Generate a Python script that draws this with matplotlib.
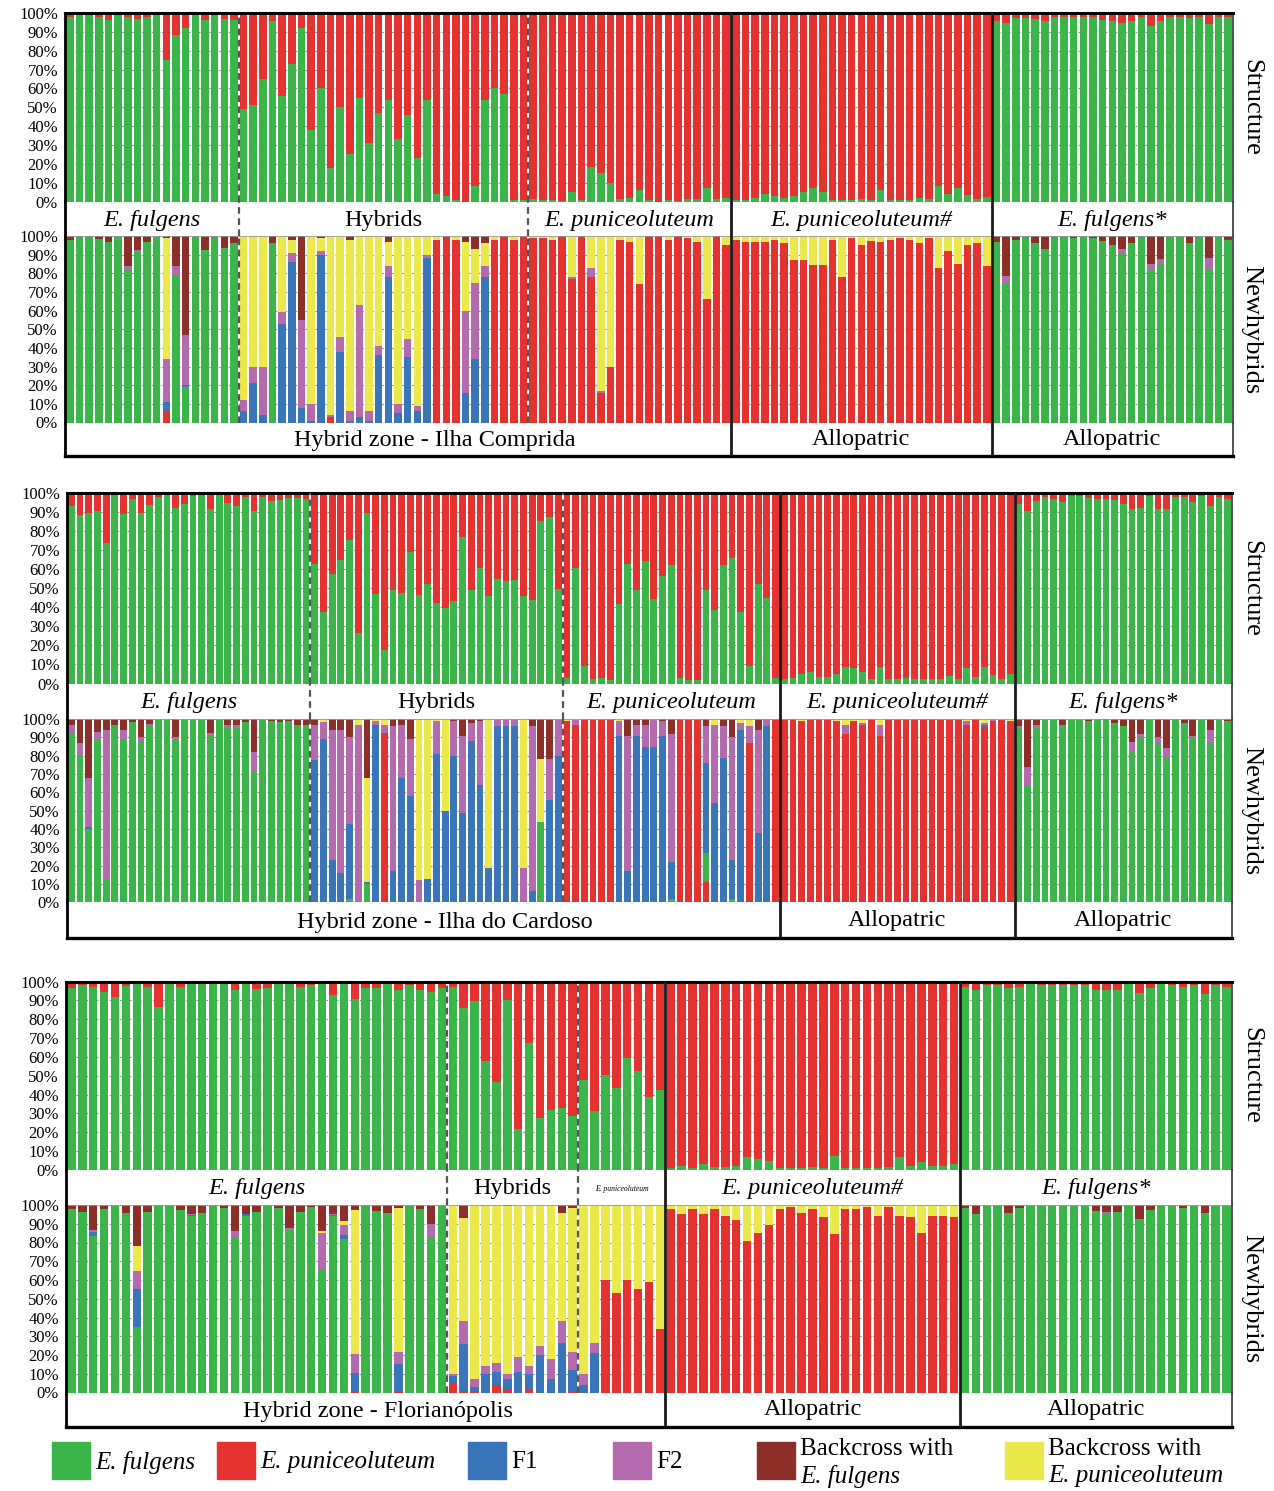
import numpy as np
import matplotlib.pyplot as plt
from matplotlib.patches import Rectangle

plt.rcParams['font.family'] = ['Liberation Serif', 'DejaVu Serif']

GREEN = '#3bb44a'
RED = '#e3322f'
BLUE = '#3a74b9'
PURPLE = '#b36bad'
BROWN = '#8c2f28'
YELLOW = '#ebe84b'

segment_names = ['E. fulgens', 'Hybrids', 'E. puniceoluteum', 'E. puniceoluteum#', 'E. fulgens*']
segment_italic = [True, False, True, True, True]

# ---------------- Hybrid zone - Ilha Comprida ----------------
ic_groups = [18, 30, 21, 27, 25]
# Structure: % E. fulgens (rest is E. puniceoluteum)
ic_structure = [
    98, 99, 99, 98, 96.5, 99, 98, 97, 98, 99, 75, 88.5, 92, 99, 96.5, 99, 97, 96.5,
    49, 51, 65, 96, 56, 73, 92, 38, 60, 18, 50, 25, 55, 31, 47, 54, 33, 46, 23, 54,
    4, 3, 1, 0, 8, 54, 60, 57, 1, 1,
    1.5, 1, 1, 0.5, 5, 1, 18.5, 15, 10, 1.5, 2, 6, 1, 0, 1, 0.5, 1.5, 1.5, 7, 1.5, 2,
    1, 1, 2, 4, 3, 2, 3, 5, 7, 5, 1, 1, 1, 1.5, 1, 6, 1, 1, 1, 2, 1.5, 8, 4, 7, 3.5, 1.5, 2.5,
    96, 94.5, 97.5, 97.5, 97, 96, 98, 98, 98, 98, 98, 96.5, 96, 94.5, 96, 98, 93, 96, 98, 98,
    97.5, 98, 94, 98, 98,
]
# Newhybrids classes (E. fulgens = remainder)
ic_red = [
    0, 0, 0, 0, 0, 0, 0, 0, 0, 0, 6, 0, 0, 0, 0, 0, 0, 0,
    0, 0, 0, 0, 0, 0, 0, 0, 0, 3, 0, 0, 0, 0, 0, 0, 0, 0, 0, 0, 98, 100, 98, 0, 0, 0, 98, 100, 98, 100,
    99, 99, 98, 100, 77, 100, 78, 16, 30, 98, 97, 74, 100, 100, 98, 100, 99, 97, 66, 100, 95,
    98, 97, 97, 97, 98, 96, 87, 87, 84.5, 84.5, 98, 78, 99, 95, 97.5, 97, 98, 99, 98, 96,
    99, 83, 92, 85, 95, 96, 84,
    0, 0, 0, 0, 0, 0, 0, 0, 0, 0, 0, 0, 0, 0, 0, 0, 0, 0, 0, 0, 0, 0, 0, 0, 0,
]
ic_f1 = [
    0, 0, 0, 0, 0, 0, 0, 0, 0, 0, 5, 0, 1, 0, 0, 0, 0, 0,
    6, 21, 4, 0, 53, 86, 8, 1, 90, 0, 38, 1, 3, 1, 36, 78, 5, 35, 6, 88, 0, 0, 0, 16, 34, 78, 0, 0, 0, 0,
    0, 0, 0, 0, 0, 0, 0, 0, 0, 0, 0, 0, 0, 0, 0, 0, 0, 0, 0, 0, 0,
    0, 0, 0, 0, 0, 0, 0, 0, 0, 0, 0, 0, 0, 0, 0, 0, 0, 0, 0, 0, 0, 0, 0, 0, 0, 0, 0,
    0, 0, 0, 0, 0, 0, 0, 0, 0, 0, 0, 0, 0, 0, 0, 0, 0, 0, 0, 0, 0, 0, 0, 0, 0,
]
ic_f2 = [
    0, 0, 0, 0, 0, 0, 2, 1, 0, 0, 23, 5, 27, 0, 0, 0, 0, 0,
    6, 9, 26, 0, 6, 5, 47, 9, 2, 1, 8, 5, 60, 5, 5, 6, 5, 10, 3, 2, 0, 0, 0, 44, 41, 6, 0, 0, 0, 0,
    0, 0, 0, 0, 1, 0, 5, 1, 0, 0, 0, 0, 0, 0, 0, 0, 0, 0, 0, 0, 0,
    0, 0, 0, 0, 0, 0, 0, 0, 0, 0, 0, 0, 0, 0, 0, 0, 0, 0, 0, 0, 0, 0, 0, 0, 0, 0, 0,
    0, 4, 0, 0, 0, 0, 0, 0, 0, 0, 0, 0, 0, 2.5, 0, 0, 3, 2.5, 0, 0, 0, 0, 6, 0, 0,
]
ic_bcp = [
    0, 0, 0, 0, 0, 0, 0, 0, 0, 0, 65, 0, 0, 0, 0, 0, 0, 0,
    88, 70, 70, 0, 41, 7, 0, 90, 7, 96, 54, 92, 37, 94, 59, 13, 90, 55, 91, 10, 2, 0, 2, 37, 18, 12, 2, 0, 2, 0,
    1, 1, 2, 0, 22, 0, 17, 83, 70, 2, 3, 26, 0, 0, 2, 0, 1, 3, 34, 0, 5,
    2, 3, 3, 3, 2, 4, 13, 13, 15.5, 15.5, 2, 22, 1, 5, 2.5, 3, 2, 1, 2, 4, 1, 17, 8, 15, 5, 4, 16,
    0, 0, 0, 0, 0, 0, 0, 0, 0, 0, 0, 0, 0, 0, 0, 0, 0, 0, 0, 0, 0, 0, 0, 0, 0,
]
ic_bcf = [
    2, 0.5, 0, 1.5, 3, 0, 16, 7.5, 3, 0, 1, 16, 53, 0, 7.5, 0, 6.5, 3.5,
    0, 0, 0, 4, 0, 2, 45, 0, 1, 0, 0, 2, 0, 0, 0, 3, 0, 0, 0, 0, 0, 0, 0, 3, 7, 4, 0, 0, 0, 0,
    0, 0, 0, 0, 0, 0, 0, 0, 0, 0, 0, 0, 0, 0, 0, 0, 0, 0, 0, 0, 0,
    0, 0, 0, 0, 0, 0, 0, 0, 0, 0, 0, 0, 0, 0, 0, 0, 0, 0, 0, 0, 0, 0, 0, 0, 0, 0, 0,
    3, 21.5, 2, 0, 3.5, 7, 0, 0, 1, 0, 1, 2.5, 5, 7, 3.5, 0, 15, 12.5, 0, 0, 3.5, 0, 12, 0, 2,
]

# ---------------- Hybrid zone - Ilha do Cardoso ----------------
cd_groups = [28, 29, 25, 27, 25]
cd_structure = [
    93, 88.7, 89.4, 90.7, 74, 98.8, 89, 97, 89.4, 93.5, 97.9, 98.8, 92.2, 94.4, 98.2, 98.8, 91.7, 98.8,
    94.7, 93, 98, 90.5, 98, 96, 96.5, 97.5, 97.5, 97,
    62.6, 37.6, 57.7, 65, 75.3, 26.5, 89.4, 47, 17.6, 48.9, 47.6, 68.8, 46.5, 52, 42.3, 39.7, 43.2,
    76.7, 48.9, 60.8, 45.9, 54.7, 53.8, 54.1, 45.9, 44, 85.5, 87.3, 49.7,
    3, 60.8, 9.3, 2.3, 3, 1.8, 41.8, 62.6, 48.9, 64.4, 44.6, 56.4, 62.3, 3, 1.8, 1.8, 48.9, 38.8,
    62.3, 65.8, 37.4, 9.3, 52, 45, 3,
    2.6, 3, 4.8, 5.8, 3.5, 3.5, 4.8, 8.8, 8, 6.2, 2.3, 8.8, 2.3, 2.6, 3, 2.6, 2.3, 2.3, 2.3, 4,
    2.6, 8, 3.5, 8.5, 4.4, 2.6, 4.8,
    94.4, 90.5, 96, 97.9, 97, 95.2, 98.2, 98.2, 97.5, 97, 97, 96.5, 94, 91.7, 92.2, 98.2, 91.7, 91.7,
    97.9, 97.9, 95.2, 98.2, 93, 97.9, 97,
]
cd_red = [
    0, 0, 0, 0, 0, 0, 0, 0, 0, 0, 0, 0, 0, 0, 0, 0, 0, 0, 0, 0, 0, 0, 0, 0, 0, 0, 0, 0,
    0, 0, 0, 0, 0, 0, 0, 0, 92.5, 0, 0, 0, 0, 0, 0, 0, 0, 0, 0, 0, 0, 0, 0, 0, 0, 0, 0, 0, 0,
    99, 97, 100, 100, 100, 100, 0, 0, 0, 0, 0, 0, 0, 100, 100, 100, 11, 0, 0, 0, 0, 87, 0, 0, 100,
    100, 100, 99, 100, 100, 100, 99, 92, 99, 96.5, 100, 91, 100, 100, 100, 100, 100, 100, 100, 100,
    100, 96, 100, 95, 99, 99.5, 99,
    0, 0, 0, 0, 0, 0, 0, 0, 0, 0, 0, 0, 0, 0, 0, 0, 0, 0, 0, 0, 0, 0, 0, 0, 0,
]
cd_f1 = [
    0, 0, 1, 0, 0, 0, 0, 0, 0, 0, 0, 0, 0, 0, 0, 0, 0, 0, 0, 0, 0, 0, 0, 0, 0, 0, 0, 0,
    77.5, 89, 23, 16, 41, 0, 1, 97, 0, 17, 68, 58, 0, 13, 81, 50, 80, 49, 88, 64, 19, 96, 96, 96,
    0, 6, 0, 56, 80,
    0, 0, 0, 0, 0, 0, 91, 17, 91, 85, 85, 91, 20, 0, 0, 0, 49, 54, 79, 21, 94, 0, 38, 96, 0,
    0, 0, 0, 0, 0, 0, 0, 0, 0, 0, 0, 0, 0, 0, 0, 0, 0, 0, 0, 0, 0, 1, 0, 2, 0, 0, 0,
    0, 0, 0, 0, 0, 0, 0, 0, 0, 0, 0, 0, 0, 0, 0, 0, 0, 0, 0, 0, 0, 0, 0, 0, 0,
]
cd_f2 = [
    5, 6.5, 27, 4.3, 82, 0, 5, 0, 2.2, 1, 0, 0, 1.5, 0, 0, 0, 2, 0, 1.5, 1, 0, 11, 0, 0, 0, 0, 0, 0,
    19.5, 9.5, 71, 78, 47, 97, 0, 2, 4.5, 79, 29, 31, 12, 0, 18, 0, 19, 42, 10, 35, 0, 4, 4, 4,
    19, 90, 0, 22, 20,
    0, 2.5, 0, 0, 0, 0, 8, 74, 6, 12, 15, 8, 70, 0, 0, 0, 20, 43, 17, 67, 4, 9, 56, 4, 0,
    0, 0, 0, 0, 0, 0, 0, 5, 0, 1.5, 0, 6, 0, 0, 0, 0, 0, 0, 0, 0, 0, 2, 0, 1, 1, 0, 0,
    1, 10, 1, 0, 0, 0, 0, 0, 0, 0, 0, 0, 0, 5.5, 2, 0, 3, 5, 0, 0, 1, 0, 7, 0, 0,
]
cd_bcp = [
    0, 0, 0, 0, 0, 0, 0, 0, 0, 0, 0, 0, 0, 0, 0, 0, 0, 0, 0, 0, 0, 0, 0, 0, 0, 0, 0, 0,
    0, 1.5, 0, 0, 0, 3, 57, 1, 3, 0, 0, 0, 88, 87, 1, 50, 0, 0, 0, 0, 81, 0, 0, 0, 81, 0, 34, 0, 0,
    1, 0.5, 0, 0, 0, 0, 1, 0, 0, 0, 0, 0, 0, 0, 0, 0, 0, 3, 0, 0, 2, 4, 0, 0, 0,
    0, 0, 1, 0, 0, 0, 1, 3, 1, 2, 0, 3, 0, 0, 0, 0, 0, 0, 0, 0, 0, 1, 0, 2, 0, 0.5, 1,
    0, 0, 0, 0, 0, 0, 0, 0, 0, 0, 0, 0, 0, 0, 0, 0, 0, 0, 0, 0, 0, 0, 0, 0, 0,
]
cd_bcf = [
    3.2, 13, 32, 7, 6, 3, 6, 1.6, 10, 2.5, 0, 0, 9.8, 0, 0, 0, 7.5, 0, 3, 3.5, 1.5, 18, 0, 1, 1.5,
    1, 3, 3,
    3, 0, 6, 6, 10, 0, 32, 0, 0, 4, 3, 11, 0, 0, 0, 0, 1, 9, 2, 1, 0, 0, 0, 0, 0, 4, 22, 22, 0,
    0, 0, 0, 0, 0, 0, 0, 9, 3, 3, 0, 1, 8, 0, 0, 0, 4, 0, 4, 10, 0, 0, 6, 0, 0,
    0, 0, 0, 0, 0, 0, 0, 0, 0, 0, 0, 0, 0, 0, 0, 0, 0, 0, 0, 0, 0, 0, 0, 0, 0, 0, 0,
    4, 26, 3.5, 0, 0, 3, 0, 0, 1, 0, 0.5, 2, 4, 12.5, 8, 0, 10, 16, 0, 2, 9, 0, 6, 0, 1,
]

# ---------------- Hybrid zone - Florianopolis ----------------
fl_groups = [35, 12, 8, 27, 25]
fl_structure = [
    96.8, 97.9, 97.3, 94.3, 92, 97.7, 99, 97.3, 86.4, 98.6, 97.3, 98.6, 98.6, 98.6, 98.6, 95.6,
    98.6, 96.1, 96.8, 99, 99, 97.3, 97.9, 99, 92.9, 98.6, 90.6, 96.5, 96.5, 98.6, 95.6, 97.9,
    95.6, 94.3, 96.8,
    97.3, 86, 89.4, 57.9, 46.5, 90.3, 21.8, 67.3, 27.8, 31.9, 33.1, 28.9,
    47.8, 31.3, 50.4, 43.4, 59.6, 52.5, 38.9, 42.5,
    1.2, 2.3, 1.2, 3, 1.8, 1.8, 2.3, 7.1, 5.8, 4.8, 1.2, 1.2, 1.2, 1.8, 1.2, 7.6, 1.2, 1.2, 1.2,
    1.2, 1.8, 7.1, 2.3, 4.1, 2.3, 2.3, 3,
    97.3, 95.6, 97.9, 98.2, 96.8, 97.3, 98.6, 98.2, 97.9, 98.2, 98.2, 97.9, 95.6, 95.6, 95.6,
    98.6, 93.8, 96.5, 98.6, 98.2, 97.3, 98.2, 93.3, 98.2, 97.3,
]
fl_red = [
    0, 0, 0, 0, 0, 0, 0, 0, 0, 0, 0, 0, 0, 0, 0, 0, 0, 0, 0, 0, 0, 0, 0, 0, 0, 0, 1, 0, 0, 0,
    1, 0, 0, 0, 0,
    5, 1, 1, 0, 4, 2, 0, 1.5, 0, 0, 0, 1,
    0, 0, 60, 53, 60, 55, 59, 34,
    98, 95, 98, 95, 98, 94, 92, 81, 85, 89.5, 98, 99, 95.5, 98, 93.5, 84.5, 98, 98, 99, 94,
    99, 94, 93.5, 85, 94, 94, 93.5,
    0, 0, 0, 0, 0, 0, 0, 0, 0, 0, 0, 0, 0, 0, 0, 0, 0, 0, 0, 0, 0, 0, 0, 0, 0,
]
fl_f1 = [
    0, 0, 2, 0, 0, 0, 20, 0, 0, 0, 0, 0.5, 0, 0, 0, 0, 1, 0, 0, 0, 0, 0, 0, 0, 0.5, 2, 9.5, 0, 0, 0,
    14, 0, 0, 0, 0,
    4, 25, 2, 10, 7, 5, 11, 8.5, 20, 7, 26.5, 11,
    4, 21, 0, 0, 0, 0, 0, 0,
    0, 0, 0, 0, 0, 0, 0, 0, 0, 0, 0, 0, 0, 0, 0, 0, 0, 0, 0, 0, 0, 0, 0, 0, 0, 0, 0,
    0, 0, 0, 0, 0, 0, 0, 0, 0, 0, 0, 0, 0, 0, 0, 0, 0, 0, 0, 0, 0, 0, 0, 0, 0,
]
fl_f2 = [
    0, 0, 1, 0, 0, 0.5, 10, 0, 0, 0, 0, 0.5, 0, 0, 0, 3, 0, 0, 0, 0, 1.5, 0, 0, 19.5, 0.5, 5.5, 10,
    0, 0, 0, 6.5, 0, 0, 7, 0,
    1, 12, 4, 4, 5, 3, 8, 4, 5, 11, 11.5, 9.5,
    6, 5.5, 0, 0, 0, 0, 0, 0,
    0, 0, 0, 0, 0, 0, 0, 0, 0, 0, 0, 0, 0, 0, 0, 0, 0, 0, 0, 0, 0, 0, 0, 0, 0, 0, 0,
    0, 0, 0, 0, 0.5, 0, 0, 0, 0, 0, 0, 0, 0, 0.5, 0, 0, 0.5, 0, 0, 0, 0, 0, 0.5, 0, 0,
]
fl_bcp = [
    0, 0, 0, 0, 0, 0, 13, 0, 0, 0, 0, 0, 0, 0, 0, 0, 0, 0, 0, 0, 0, 0, 0, 1, 0, 2, 77, 0, 0, 0,
    77, 0, 0, 0, 0,
    90, 55, 93, 86, 84, 89.5, 81, 86, 75, 82, 58, 77,
    90, 73.5, 40, 47, 40, 45, 41, 66,
    2, 5, 2, 5, 2, 6, 8, 19, 15, 10.5, 2, 1, 4.5, 2, 6.5, 15.5, 2, 2, 1, 6, 1, 6, 6.5, 15, 6, 6, 6.5,
    0, 0, 0, 0, 0, 0, 0, 0, 0, 0, 0, 0, 0, 0, 0, 0, 0, 0, 0, 0, 0, 0, 0, 0, 0,
]
fl_bcf = [
    2, 3.5, 13.5, 2, 0, 4, 22, 3.5, 0, 0, 2.5, 5, 4.4, 0, 1.5, 14, 5, 3.5, 0, 1.5, 12, 3.5, 1, 14,
    5, 8.5, 2.5, 0, 3, 4, 1.5, 0, 2, 10, 0,
    0, 7, 0, 0, 0, 0.5, 0, 0, 0, 0, 4, 1.5,
    0, 0, 0, 0, 0, 0, 0, 0,
    0, 0, 0, 0, 0, 0, 0, 0, 0, 0, 0, 0, 0, 0, 0, 0, 0, 0, 0, 0, 0, 0, 0, 0, 0, 0, 0,
    1.5, 5, 0, 0, 4, 1.5, 0, 0, 0, 0, 0, 0, 3, 3.5, 3.5, 0, 7.5, 2.5, 0, 0, 1.5, 0, 4.5, 0, 0,
]

legend_colors = [GREEN, RED, BLUE, PURPLE, BROWN, YELLOW]
legend_first = ['', '', 'F1', 'F2', 'Backcross with', 'Backcross with']
legend_species = ['E. fulgens', 'E. puniceoluteum', '', '', 'E. fulgens', 'E. puniceoluteum']

W, H = 1274, 1491
fig = plt.figure(figsize=(W / 100, H / 100), dpi=100)
BAR_W = 0.78
LABEL_SIZE = 17.5


def px_axes(x0, y0, x1, y1):
    return fig.add_axes([x0 / W, 1 - y1 / H, (x1 - x0) / W, (y1 - y0) / H])


def spines(ax, left, right, top, bottom):
    for side, spec in (('left', left), ('right', right), ('top', top), ('bottom', bottom)):
        if spec is None:
            ax.spines[side].set_visible(False)
        else:
            ax.spines[side].set_color(spec[0])
            ax.spines[side].set_linewidth(spec[1])


def style_bars(ax, n):
    ax.set_xlim(-0.5, n - 0.5)
    ax.set_ylim(0, 100)
    ax.set_yticks(np.arange(0, 101, 10))
    ax.set_yticklabels([f'{v}%' for v in range(0, 101, 10)], fontsize=12)
    ax.tick_params(axis='y', length=0, pad=5)
    ax.set_xticks(np.arange(n))
    ax.tick_params(axis='x', length=3, width=0.8, color='#666666', labelbottom=False, direction='out')
    ax.yaxis.grid(True, color='#8a8a8a', linestyle=(0, (1.5, 1.5)), linewidth=0.8)
    ax.set_axisbelow(True)


def draw_block(groups, structure, red, f1, f2, bcp, bcf, geo, zone_name, zone_pos, name_sizes):
    x0, x1, st_top, st_bot, nh_top, nh_bot, bottom = geo
    n = sum(groups)
    x = np.arange(n)
    edges = np.cumsum(groups)[:-1] - 0.5
    lefts = np.concatenate([[-0.5], edges])
    rights = np.concatenate([edges, [n - 0.5]])
    mids = (lefts + rights) / 2

    # Structure panel
    ax_st = px_axes(x0, st_top, x1, st_bot)
    g = np.array(structure, float)
    ax_st.bar(x, g, width=BAR_W, color=GREEN, linewidth=0, zorder=2)
    ax_st.bar(x, 100 - g, bottom=g, width=BAR_W, color=RED, linewidth=0, zorder=2)
    style_bars(ax_st, n)
    spines(ax_st, ('black', 2), ('#333333', 1.2), ('black', 2.2), ('#777777', 0.8))

    # Newhybrids panel
    ax_nh = px_axes(x0, nh_top, x1, nh_bot)
    r, a, b, c, d = [np.array(v, float) for v in (red, f1, f2, bcp, bcf)]
    green = np.clip(100 - (r + a + b + c + d), 0, None)
    base = np.zeros(n)
    for vals, col in ((r, RED), (green, GREEN), (a, BLUE), (b, PURPLE), (c, YELLOW), (d, BROWN)):
        ax_nh.bar(x, vals, bottom=base, width=BAR_W, color=col, linewidth=0, zorder=2)
        base = base + vals
    style_bars(ax_nh, n)
    spines(ax_nh, ('black', 2), ('#333333', 1.2), ('#999999', 0.6), ('#777777', 0.8))

    # label strips
    ax_l1 = px_axes(x0, st_bot, x1, nh_top)
    ax_l2 = px_axes(x0, nh_bot, x1, bottom)
    for ax in (ax_l1, ax_l2):
        ax.set_xlim(-0.5, n - 0.5)
        ax.set_ylim(0, 1)
        ax.set_xticks([])
        ax.set_yticks([])
    spines(ax_l1, ('black', 2), ('#333333', 1.2), None, None)
    spines(ax_l2, ('black', 2), ('#333333', 1.2), None, ('black', 2.4))

    for i, name in enumerate(segment_names):
        ax_l1.text(mids[i], 0.46, name, ha='center', va='center', fontsize=name_sizes[i],
                   fontstyle='italic' if segment_italic[i] else 'normal')
    ax_l2.text(zone_pos, 0.45, zone_name, transform=ax_l2.transAxes, ha='center', va='center',
               fontsize=LABEL_SIZE)
    for i in (3, 4):
        ax_l2.text(mids[i], 0.5, 'Allopatric', ha='center', va='center', fontsize=LABEL_SIZE)

    # group separators
    for ax in (ax_st, ax_l1, ax_nh):
        for e in edges[:2]:
            ax.axvline(e, color='#555555', linestyle=(0, (3, 2)), linewidth=1.6, zorder=4)
    for ax in (ax_st, ax_l1, ax_nh, ax_l2):
        for e in edges[2:]:
            ax.axvline(e, color='#1a1a1a', linewidth=2, zorder=4)

    fig.text(1251 / W, 1 - (st_top + st_bot) / 2 / H, 'Structure', rotation=-90,
             ha='center', va='center', fontsize=19)
    fig.text(1251 / W, 1 - (nh_top + nh_bot) / 2 / H, 'Newhybrids', rotation=-90,
             ha='center', va='center', fontsize=19)


big = [LABEL_SIZE] * 5
draw_block(ic_groups, ic_structure, ic_red, ic_f1, ic_f2, ic_bcp, ic_bcf,
           (65, 1233, 13, 201.5, 236, 422.5, 456), 'Hybrid zone - Ilha Comprida', 0.317, big)
draw_block(cd_groups, cd_structure, cd_red, cd_f1, cd_f2, cd_bcp, cd_bcf,
           (67, 1232, 493, 683.5, 719, 902.5, 938), 'Hybrid zone - Ilha do Cardoso', 0.324, big)
draw_block(fl_groups, fl_structure, fl_red, fl_f1, fl_f2, fl_bcp, fl_bcf,
           (66, 1232, 981.5, 1170, 1205, 1392.5, 1427), 'Hybrid zone - Florianópolis', 0.268,
           [LABEL_SIZE, LABEL_SIZE, 5.5, LABEL_SIZE, LABEL_SIZE])

# legend
lax = px_axes(0, 1432, W, H)
lax.set_xlim(0, W)
lax.set_ylim(H, 1432)
lax.axis('off')
legend_x = [52, 217, 468, 613, 757, 1005]
for lx, col, first, sp in zip(legend_x, legend_colors, legend_first, legend_species):
    lax.add_patch(Rectangle((lx, 1442), 38, 37, color=col))
    tx = lx + 43
    if first and sp:
        lax.text(tx, 1449, first, fontsize=18, va='center', ha='left')
        lax.text(tx, 1476, sp, fontsize=18, va='center', ha='left', fontstyle='italic')
    elif first:
        lax.text(tx, 1462, first, fontsize=18, va='center', ha='left')
    else:
        lax.text(tx, 1462, sp, fontsize=18, va='center', ha='left', fontstyle='italic')

fig.savefig('out.png', dpi=100, facecolor='white')
